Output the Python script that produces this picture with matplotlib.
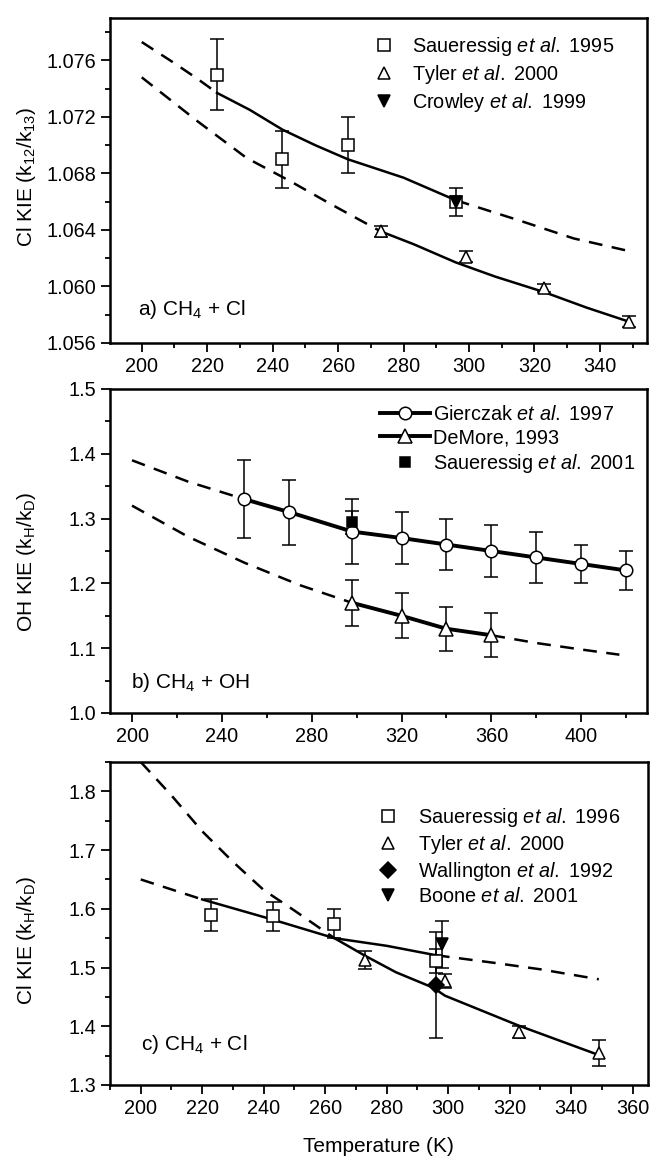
import matplotlib.pyplot as plt
from matplotlib.lines import Line2D
from matplotlib.ticker import MultipleLocator, FormatStrFormatter

plt.rcParams['font.family'] = ['Liberation Sans', 'DejaVu Sans']
plt.rcParams['mathtext.fontset'] = 'custom'
plt.rcParams['mathtext.rm'] = 'Liberation Sans'
plt.rcParams['mathtext.it'] = 'Liberation Sans:italic'
plt.rcParams['mathtext.bf'] = 'Liberation Sans:bold'

# ---- a) CH4 + Cl, carbon KIE ----
a_sau_T = [223, 243, 263, 296]
a_sau_kie = [1.075, 1.069, 1.070, 1.066]
a_sau_err = [0.0025, 0.002, 0.002, 0.001]
a_tyl_T = [273, 299, 323, 349]
a_tyl_kie = [1.0639, 1.0621, 1.0599, 1.0575]
a_tyl_err = [0.0004, 0.0004, 0.0003, 0.0004]
a_cro_T = [296]
a_cro_kie = [1.066]

a_up_dash1_T = [200, 210, 217, 223]
a_up_dash1_kie = [1.0773, 1.0758, 1.0747, 1.0737]
a_up_solid_T = [223, 233, 243, 253, 263, 280, 296]
a_up_solid_kie = [1.0737, 1.0725, 1.0711, 1.0700, 1.0690, 1.0677, 1.0661]
a_up_dash2_T = [296, 315, 332, 349]
a_up_dash2_kie = [1.0661, 1.0647, 1.0634, 1.0625]
a_lo_dash_T = [200, 217, 232, 245, 258, 273]
a_lo_dash_kie = [1.0748, 1.0717, 1.0691, 1.0675, 1.0658, 1.0639]
a_lo_solid_T = [273, 283, 296, 308, 323, 336, 349]
a_lo_solid_kie = [1.0639, 1.0630, 1.0617, 1.0607, 1.0596, 1.0585, 1.0575]

# ---- b) CH4 + OH, H/D KIE ----
b_gie_T = [250, 270, 298, 320, 340, 360, 380, 400, 420]
b_gie_kie = [1.33, 1.31, 1.28, 1.27, 1.26, 1.25, 1.24, 1.23, 1.22]
b_gie_err = [0.06, 0.05, 0.05, 0.04, 0.04, 0.04, 0.04, 0.03, 0.03]
b_dem_T = [298, 320, 340, 360]
b_dem_kie = [1.17, 1.15, 1.13, 1.12]
b_dem_err = [0.035, 0.035, 0.034, 0.034]
b_sau_T = [298]
b_sau_kie = [1.294]
b_sau_err = [0.018]

b_up_dash_T = [200, 225, 250]
b_up_dash_kie = [1.39, 1.357, 1.33]
b_lo_dash1_T = [200, 225, 250, 275, 298]
b_lo_dash1_kie = [1.32, 1.272, 1.232, 1.197, 1.17]
b_lo_dash2_T = [360, 380, 400, 417]
b_lo_dash2_kie = [1.12, 1.108, 1.098, 1.09]

# ---- c) CH4 + Cl, H/D KIE ----
c_sau_T = [223, 243, 263, 296]
c_sau_kie = [1.59, 1.587, 1.575, 1.511]
c_sau_err = [0.027, 0.025, 0.024, 0.02]
c_tyl_T = [273, 299, 323, 349]
c_tyl_kie = [1.513, 1.477, 1.39, 1.355]
c_tyl_err = [0.015, 0.012, 0.01, 0.022]
c_wal_T = [296]
c_wal_kie = [1.47]
c_wal_err = [0.09]
c_boo_T = [298]
c_boo_kie = [1.54]
c_boo_err = [0.04]

c_lo_dash_T = [200, 220]
c_lo_dash_kie = [1.65, 1.616]
c_up_solid_T = [220, 243, 263, 280, 296]
c_up_solid_kie = [1.616, 1.5815, 1.550, 1.537, 1.521]
c_up_dash_T = [296, 315, 330, 349]
c_up_dash_kie = [1.521, 1.508, 1.497, 1.480]
c_steep_T = [200, 210, 220, 230, 240, 250, 263]
c_steep_kie = [1.85, 1.793, 1.732, 1.680, 1.632, 1.597, 1.550]
c_lo_solid_T = [263, 273, 283, 295, 299, 323, 349]
c_lo_solid_kie = [1.550, 1.520, 1.492, 1.466, 1.452, 1.401, 1.351]

W, H = 650, 1159
FS = 14.3     # tick labels and legends
FS_LAB = 15   # axis labels and panel captions
DASH = (5.5, 3.8)


def add_axes(fig, top, bottom, left=110, right=647):
    return fig.add_axes([left / W, 1 - bottom / H, (right - left) / W, (bottom - top) / H])


def style_axes(ax, xlim, ylim, xmaj, xmin, ymaj, ymin, yfmt):
    ax.set_xlim(*xlim)
    ax.set_ylim(*ylim)
    ax.xaxis.set_major_locator(MultipleLocator(xmaj))
    ax.xaxis.set_minor_locator(MultipleLocator(xmin))
    ax.yaxis.set_major_locator(MultipleLocator(ymaj))
    ax.yaxis.set_minor_locator(MultipleLocator(ymin))
    ax.yaxis.set_major_formatter(FormatStrFormatter(yfmt))
    ax.tick_params(which='both', direction='out', top=False, right=False,
                   labelsize=FS, width=1.3)
    ax.tick_params(which='major', length=6.5)
    ax.tick_params(which='minor', length=3.5)
    for s in ax.spines.values():
        s.set_linewidth(1.8)


def points(ax, T, kie, err, marker, filled=False, ms=8):
    if err is not None:
        ax.errorbar(T, kie, yerr=err, fmt='none', ecolor='black', elinewidth=1.1,
                    capsize=5, capthick=1.1, zorder=3)
    ax.plot(T, kie, marker, ls='none', ms=ms, mfc='black' if filled else 'white',
            mec='black', mew=1.1, zorder=4)


def handle(marker, filled=False, ms=8, lw=0, ls='none'):
    return Line2D([], [], marker=marker, ls=ls, lw=lw, color='black', ms=ms,
                  mfc='black' if filled else 'white', mec='black', mew=1.1)


fig = plt.figure(figsize=(W / 100, H / 100), dpi=100)

# panel a
ax = add_axes(fig, 18, 343)
ax.plot(a_up_dash1_T, a_up_dash1_kie, 'k--', lw=1.8, dashes=DASH)
ax.plot(a_up_solid_T, a_up_solid_kie, 'k-', lw=1.8)
ax.plot(a_up_dash2_T, a_up_dash2_kie, 'k--', lw=1.8, dashes=DASH)
ax.plot(a_lo_dash_T, a_lo_dash_kie, 'k--', lw=1.8, dashes=DASH)
ax.plot(a_lo_solid_T, a_lo_solid_kie, 'k-', lw=1.8)
points(ax, a_sau_T, a_sau_kie, a_sau_err, 's')
points(ax, a_tyl_T, a_tyl_kie, a_tyl_err, '^', ms=9)
points(ax, a_cro_T, a_cro_kie, None, 'v', filled=True, ms=9)
style_axes(ax, (190.3, 354.4), (1.056, 1.079), 20, 10, 0.004, 0.002, '%.3f')
ax.legend([handle('s'), handle('^', ms=9), handle('v', True, ms=9)],
          ['Saueressig $\\it{et\\ al.}$ 1995', 'Tyler $\\it{et\\ al.}$ 2000',
           'Crowley $\\it{et\\ al.}$ 1999'],
          loc='upper left', bbox_to_anchor=(0.492, 0.948), frameon=False, fontsize=FS,
          handlelength=1.0, handletextpad=0.9, labelspacing=0.25, borderpad=0,
          borderaxespad=0)
ax.text(0.053, 0.086, 'a) CH$_4$ + Cl', transform=ax.transAxes, fontsize=FS_LAB,
        va='baseline')
fig.text(26 / W, 1 - 177 / H, 'Cl KIE (k$_{12}$/k$_{13}$)', rotation=90,
         ha='center', va='center', fontsize=FS_LAB)

# panel b
ax = add_axes(fig, 389, 713)
ax.plot(b_up_dash_T, b_up_dash_kie, 'k--', lw=1.8, dashes=DASH)
ax.plot(b_lo_dash1_T, b_lo_dash1_kie, 'k--', lw=1.8, dashes=DASH)
ax.plot(b_lo_dash2_T, b_lo_dash2_kie, 'k--', lw=1.8, dashes=DASH)
ax.plot(b_gie_T, b_gie_kie, 'k-', lw=2.8, zorder=2)
ax.plot(b_dem_T, b_dem_kie, 'k-', lw=2.8, zorder=2)
points(ax, b_gie_T, b_gie_kie, b_gie_err, 'o', ms=9)
points(ax, b_dem_T, b_dem_kie, b_dem_err, '^', ms=10)
points(ax, b_sau_T, b_sau_kie, b_sau_err, 's', filled=True, ms=7)
style_axes(ax, (190.2, 429.3), (1.0, 1.5), 40, 20, 0.1, 0.05, '%.1f')
ax.legend([handle('o', ms=9, lw=2.8, ls='-'), handle('^', ms=10, lw=2.8, ls='-'),
           handle('s', True, ms=7)],
          ['Gierczak $\\it{et\\ al.}$ 1997', 'DeMore, 1993',
           'Saueressig $\\it{et\\ al.}$ 2001'],
          loc='upper left', bbox_to_anchor=(0.503, 0.951), frameon=False, fontsize=FS,
          handlelength=2.5, handletextpad=0.15, labelspacing=0.22, borderpad=0,
          borderaxespad=0, numpoints=1)
ax.text(0.040, 0.077, 'b) CH$_4$ + OH', transform=ax.transAxes, fontsize=FS_LAB,
        va='baseline')
fig.text(26 / W, 1 - 562 / H, 'OH KIE (k$_\\mathrm{H}$/k$_\\mathrm{D}$)', rotation=90,
         ha='center', va='center', fontsize=FS_LAB)

# panel c
ax = add_axes(fig, 762, 1085, right=648)
ax.plot(c_lo_dash_T, c_lo_dash_kie, 'k--', lw=1.8, dashes=DASH)
ax.plot(c_up_solid_T, c_up_solid_kie, 'k-', lw=1.8)
ax.plot(c_up_dash_T, c_up_dash_kie, 'k--', lw=1.8, dashes=DASH)
ax.plot(c_steep_T, c_steep_kie, 'k--', lw=1.8, dashes=DASH)
ax.plot(c_lo_solid_T, c_lo_solid_kie, 'k-', lw=1.8)
points(ax, c_sau_T, c_sau_kie, c_sau_err, 's')
points(ax, c_tyl_T, c_tyl_kie, c_tyl_err, '^', ms=9)
points(ax, c_wal_T, c_wal_kie, c_wal_err, 'D', filled=True, ms=8)
points(ax, c_boo_T, c_boo_kie, c_boo_err, 'v', filled=True, ms=9)
style_axes(ax, (190, 365), (1.3, 1.85), 20, 10, 0.1, 0.05, '%.1f')
ax.legend([handle('s'), handle('^', ms=9), handle('D', True), handle('v', True, ms=9)],
          ['Saueressig $\\it{et\\ al.}$ 1996', 'Tyler $\\it{et\\ al.}$ 2000',
           'Wallington $\\it{et\\ al.}$ 1992', 'Boone $\\it{et\\ al.}$ 2001'],
          loc='upper left', bbox_to_anchor=(0.498, 0.864), frameon=False, fontsize=FS,
          handlelength=1.0, handletextpad=1.0, labelspacing=0.2, borderpad=0,
          borderaxespad=0)
ax.text(0.057, 0.108, 'c) CH$_4$ + Cl', transform=ax.transAxes, fontsize=FS_LAB,
        va='baseline')
fig.text(26 / W, 1 - 941 / H, 'Cl KIE (k$_\\mathrm{H}$/k$_\\mathrm{D}$)', rotation=90,
         ha='center', va='center', fontsize=FS_LAB)

fig.text(378 / W, 1 - 1147 / H, 'Temperature (K)', ha='center', va='center',
         fontsize=FS_LAB)

fig.savefig('out.png', dpi=100)
